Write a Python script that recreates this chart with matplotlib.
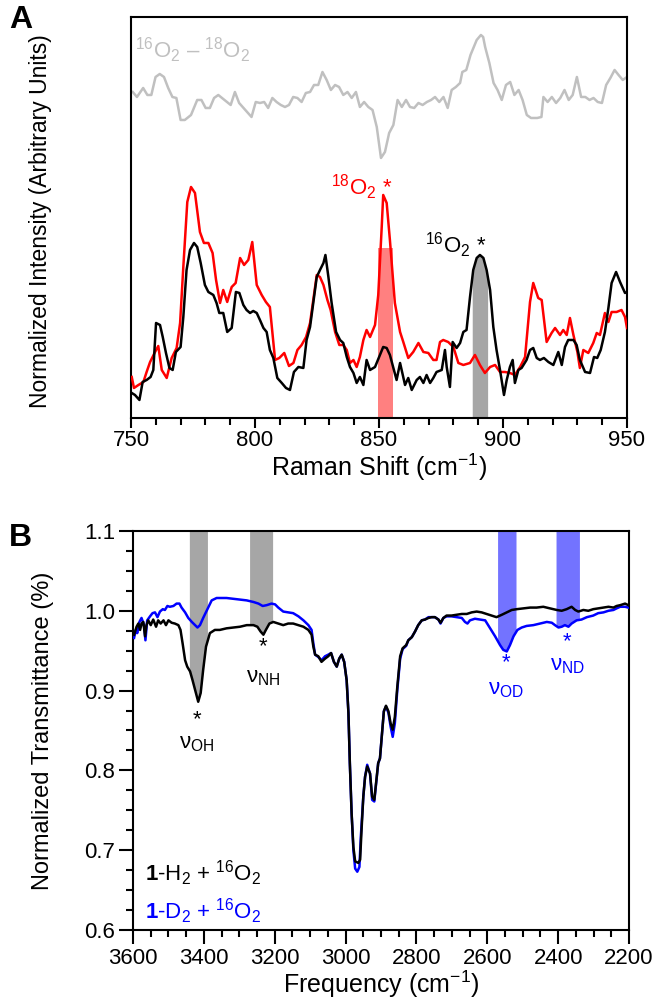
import matplotlib
matplotlib.use("Agg")
import matplotlib.pyplot as plt
import numpy as np
from matplotlib.ticker import MultipleLocator, FormatStrFormatter

plt.rcParams['font.family'] = ['Liberation Sans', 'DejaVu Sans']
plt.rcParams['mathtext.fontset'] = 'custom'
plt.rcParams['mathtext.rm'] = 'Liberation Sans'
plt.rcParams['mathtext.it'] = 'Liberation Sans:italic'
plt.rcParams['mathtext.bf'] = 'Liberation Sans:bold'

# ---- Panel A: Raman (arbitrary units) ----
diff_x = [750.7, 752.4, 754.9, 756.6, 758.2, 759.9, 761.6, 763.3, 765.0, 766.7,
          768.3, 770.0, 771.7, 774.2, 776.7, 778.4, 780.1, 781.8, 783.5, 785.2,
          787.7, 790.2, 791.9, 793.6, 796.1, 798.6, 800.3, 802.0, 803.7, 805.3,
          807.0, 808.7, 810.4, 812.1, 813.7, 815.4, 817.1, 818.8, 820.5, 822.2,
          823.8, 825.5, 827.2, 828.9, 830.6, 832.3, 833.9, 835.6, 837.3, 839.0,
          840.7, 842.3, 844.0, 845.7, 847.4, 849.1, 850.8, 852.4, 854.1, 855.8,
          857.5, 859.2, 860.9, 862.5, 864.2, 865.9, 867.6, 869.3, 871.0, 872.6,
          874.3, 876.0, 877.7, 879.3, 881.0, 882.7, 883.6, 885.2, 886.9, 889.4,
          891.1, 892.0, 892.8, 894.5, 896.2, 897.8, 899.5, 901.2, 902.9, 904.6,
          906.3, 907.9, 909.6, 911.3, 913.8, 915.5, 916.3, 918.0, 919.7, 921.4,
          923.1, 924.8, 926.5, 928.1, 929.8, 931.5, 933.2, 934.9, 936.5, 938.2,
          939.9, 941.6, 943.3, 945.0, 946.6, 948.3, 950.0]
diff_y = [326, 321, 330, 323, 323, 341, 344, 341, 330, 321,
          320, 298, 298, 303, 318, 318, 310, 310, 320, 323,
          318, 313, 326, 315, 308, 301, 316, 315, 316, 310,
          320, 316, 313, 311, 313, 321, 320, 316, 325, 326,
          333, 333, 346, 338, 328, 333, 331, 323, 326, 320,
          326, 311, 316, 311, 308, 291, 260, 266, 285, 293,
          318, 311, 318, 311, 310, 315, 313, 316, 318, 321,
          316, 321, 310, 328, 331, 335, 346, 348, 363, 378,
          383, 381, 371, 355, 335, 328, 318, 333, 336, 323,
          328, 318, 303, 300, 300, 301, 321, 316, 321, 315,
          320, 328, 318, 323, 341, 321, 321, 318, 320, 316,
          315, 333, 340, 348, 343, 338, 341]

o18_x = [750.3, 751.2, 753.0, 755.0, 756.3, 757.7, 759.7, 761.0, 762.4, 764.4,
         766.4, 768.4, 769.8, 771.1, 772.7, 774.2, 775.8, 777.8, 779.4, 781.2,
         782.9, 784.3, 785.9, 787.2, 788.8, 790.6, 792.2, 794.0, 795.6, 797.3,
         798.9, 800.7, 802.7, 804.4, 806.0, 808.1, 809.8, 811.8, 813.7, 815.5,
         817.1, 818.8, 820.6, 822.2, 823.5, 824.9, 826.2, 827.6, 829.2, 830.5,
         832.3, 834.0, 835.6, 837.0, 838.3, 839.7, 841.0, 842.3, 843.7, 845.0,
         846.4, 848.4, 849.7, 851.1, 851.7, 853.1, 854.4, 856.4, 858.5, 859.8,
         861.8, 863.8, 865.9, 867.9, 869.9, 871.9, 873.2, 874.6, 875.9, 877.9,
         880.0, 882.0, 884.0, 886.7, 888.7, 890.7, 892.7, 894.8, 896.8, 898.8,
         900.8, 902.8, 904.8, 906.9, 908.9, 910.9, 912.2, 914.2, 915.6, 917.6,
         919.6, 921.0, 923.0, 924.3, 925.7, 927.0, 928.4, 930.0, 931.0, 932.4,
         934.4, 936.4, 937.8, 939.1, 941.1, 942.5, 943.8, 945.8, 947.8, 949.2,
         950.0]
o18_y = [41, 30, 33, 36, 46, 56, 66, 72, 48, 40,
         60, 70, 95, 151, 216, 231, 225, 186, 175, 175,
         165, 138, 115, 128, 116, 131, 135, 160, 153, 158,
         176, 133, 123, 116, 111, 58, 60, 65, 52, 55,
         68, 73, 81, 95, 118, 143, 141, 133, 118, 108,
         86, 73, 73, 68, 55, 58, 51, 61, 78, 88,
         81, 93, 123, 191, 223, 215, 178, 115, 86, 76,
         60, 66, 75, 66, 65, 58, 58, 76, 78, 76,
         71, 55, 53, 55, 63, 53, 45, 51, 53, 46,
         46, 45, 43, 51, 61, 116, 135, 120, 118, 76,
         85, 90, 83, 88, 83, 100, 83, 66, 50, 68,
         65, 75, 85, 83, 105, 96, 106, 106, 108, 101,
         90]

o16_x = [750.3, 751.6, 753.4, 754.7, 756.3, 757.9, 759.0, 760.1, 761.7, 762.8,
         764.1, 765.5, 766.8, 768.1, 770.0, 771.1, 772.4, 773.8, 775.4, 776.7,
         778.1, 779.8, 781.2, 783.2, 784.5, 785.6, 787.2, 788.8, 790.6, 792.3,
         793.7, 795.3, 796.6, 798.0, 799.3, 800.7, 802.0, 803.4, 804.7, 806.0,
         807.4, 809.0, 810.8, 812.5, 814.1, 815.7, 817.5, 819.5, 820.8, 822.2,
         823.8, 824.9, 826.2, 827.6, 828.4, 829.6, 830.9, 832.7, 834.3, 835.6,
         837.0, 838.3, 839.7, 841.0, 842.3, 843.7, 845.0, 846.4, 848.4, 850.4,
         851.7, 853.1, 854.4, 855.8, 857.1, 858.5, 860.5, 861.8, 863.2, 865.2,
         866.5, 867.9, 869.2, 870.6, 871.9, 873.2, 875.3, 876.6, 877.3, 878.6,
         879.7, 881.3, 882.7, 884.0, 885.3, 886.7, 888.0, 889.4, 890.7, 892.1,
         893.4, 894.8, 896.1, 897.4, 898.8, 900.4, 901.5, 902.8, 903.9, 904.8,
         906.2, 907.5, 909.5, 910.9, 912.2, 913.6, 914.9, 916.5, 918.3, 920.3,
         922.3, 923.7, 925.0, 926.3, 928.4, 929.7, 931.0, 933.1, 935.1, 936.7,
         938.0, 939.4, 941.1, 942.5, 943.8, 945.6, 947.2, 949.2, 950.0]
o16_y = [25, 23, 18, 36, 38, 41, 48, 95, 93, 81,
         65, 50, 48, 66, 71, 101, 148, 168, 175, 171,
         155, 133, 126, 123, 115, 105, 105, 86, 90, 126,
         125, 113, 108, 105, 107, 105, 98, 90, 86, 68,
         60, 40, 35, 30, 28, 46, 51, 50, 78, 91,
         121, 141, 148, 155, 163, 141, 115, 86, 78, 75,
         61, 51, 45, 35, 41, 33, 58, 48, 51, 63,
         71, 70, 63, 50, 38, 55, 33, 40, 28, 38,
         41, 35, 43, 35, 40, 46, 48, 68, 51, 31,
         76, 70, 75, 86, 88, 121, 148, 160, 163, 160,
         148, 128, 91, 68, 48, 23, 38, 51, 58, 35,
         48, 50, 58, 68, 70, 60, 58, 60, 56, 53,
         66, 53, 71, 78, 78, 73, 58, 46, 45, 61,
         60, 68, 86, 110, 135, 146, 136, 125, 126]

# highlighted bands (cm-1)
band_18 = (849.5, 855.8)
band_18_top = 170
band_16 = (887.6, 893.8)

# ---- Panel B: IR transmittance ----
h2_x = [3597, 3590, 3585, 3580, 3576, 3571, 3566, 3562, 3557, 3550,
        3543, 3535, 3529, 3522, 3514, 3507, 3500, 3491, 3482, 3472,
        3466, 3460, 3453, 3447, 3439, 3432, 3425, 3416, 3409, 3402,
        3394, 3383, 3369, 3355, 3336, 3317, 3298, 3279, 3260, 3249,
        3240, 3232, 3225, 3215, 3204, 3190, 3176, 3162, 3148, 3133,
        3119, 3105, 3096, 3091, 3086, 3077, 3068, 3058, 3049, 3041,
        3033, 3025, 3018, 3011, 3004, 2997, 2992, 2988, 2983, 2978,
        2973, 2964, 2959, 2955, 2950, 2945, 2939, 2931, 2925, 2919,
        2912, 2908, 2903, 2898, 2892, 2886, 2879, 2873, 2867, 2861,
        2854, 2846, 2839, 2829, 2823, 2813, 2804, 2795, 2785, 2776,
        2766, 2757, 2748, 2738, 2732, 2724, 2715, 2701, 2686, 2672,
        2658, 2644, 2630, 2616, 2602, 2588, 2574, 2559, 2545, 2531,
        2517, 2498, 2479, 2461, 2442, 2423, 2404, 2390, 2376, 2362,
        2352, 2343, 2329, 2315, 2301, 2287, 2272, 2258, 2244, 2235,
        2225, 2211, 2202]
h2_y = [0.970, 0.980, 0.984, 0.976, 0.984, 0.986, 0.968, 0.982, 0.988, 0.982,
        0.989, 0.980, 0.988, 0.984, 0.988, 0.982, 0.988, 0.985, 0.984, 0.982,
        0.976, 0.959, 0.938, 0.930, 0.924, 0.913, 0.901, 0.886, 0.897, 0.926,
        0.955, 0.972, 0.976, 0.976, 0.978, 0.979, 0.980, 0.982, 0.982, 0.980,
        0.974, 0.970, 0.976, 0.984, 0.986, 0.984, 0.982, 0.984, 0.984, 0.982,
        0.980, 0.976, 0.970, 0.955, 0.945, 0.943, 0.936, 0.940, 0.943, 0.947,
        0.936, 0.930, 0.940, 0.945, 0.936, 0.913, 0.872, 0.809, 0.746, 0.704,
        0.686, 0.684, 0.688, 0.725, 0.767, 0.792, 0.805, 0.796, 0.767, 0.763,
        0.792, 0.809, 0.815, 0.842, 0.874, 0.881, 0.874, 0.859, 0.851, 0.867,
        0.905, 0.943, 0.953, 0.957, 0.963, 0.967, 0.974, 0.982, 0.988, 0.989,
        0.991, 0.992, 0.992, 0.989, 0.985, 0.991, 0.994, 0.994, 0.995, 0.996,
        0.996, 0.998, 0.999, 0.998, 0.996, 0.994, 0.992, 0.995, 0.998, 1.001,
        1.002, 1.003, 1.004, 1.004, 1.005, 1.003, 1.001, 1.000, 1.002, 1.005,
        1.001, 0.999, 1.001, 1.000, 1.002, 1.003, 1.004, 1.005, 1.004, 1.006,
        1.007, 1.009, 1.007]

d2_x = [3597, 3592, 3588, 3582, 3576, 3569, 3565, 3560, 3552, 3545,
        3538, 3531, 3524, 3516, 3510, 3503, 3496, 3486, 3477, 3469,
        3463, 3453, 3444, 3434, 3425, 3418, 3411, 3402, 3390, 3378,
        3364, 3350, 3336, 3317, 3298, 3279, 3260, 3246, 3234, 3223,
        3209, 3199, 3190, 3176, 3162, 3148, 3133, 3119, 3105, 3096,
        3091, 3086, 3077, 3068, 3058, 3049, 3041, 3033, 3025, 3018,
        3011, 3004, 2997, 2992, 2988, 2983, 2978, 2973, 2967, 2961,
        2957, 2950, 2945, 2939, 2931, 2925, 2919, 2912, 2908, 2903,
        2898, 2892, 2886, 2879, 2873, 2867, 2861, 2854, 2846, 2839,
        2829, 2823, 2813, 2804, 2795, 2785, 2776, 2766, 2757, 2748,
        2738, 2732, 2724, 2715, 2701, 2686, 2672, 2663, 2656, 2649,
        2635, 2621, 2606, 2592, 2578, 2564, 2555, 2545, 2536, 2526,
        2515, 2503, 2489, 2470, 2451, 2432, 2418, 2409, 2399, 2390,
        2381, 2371, 2362, 2348, 2334, 2319, 2301, 2287, 2272, 2258,
        2244, 2235, 2225, 2211, 2202]
d2_y = [0.966, 0.976, 0.972, 0.986, 0.991, 0.982, 0.963, 0.988, 0.993, 0.997,
        0.998, 0.992, 0.999, 1.002, 1.001, 1.006, 1.005, 1.006, 1.009, 1.009,
        1.004, 0.998, 0.991, 0.986, 0.982, 0.979, 0.982, 0.991, 1.002, 1.013,
        1.016, 1.016, 1.016, 1.015, 1.014, 1.013, 1.011, 1.009, 1.006, 1.007,
        1.009, 1.008, 1.004, 0.999, 0.998, 0.997, 0.993, 0.988, 0.982, 0.976,
        0.959, 0.945, 0.942, 0.938, 0.943, 0.945, 0.947, 0.936, 0.930, 0.940,
        0.945, 0.936, 0.913, 0.872, 0.809, 0.746, 0.700, 0.677, 0.673, 0.679,
        0.717, 0.767, 0.792, 0.807, 0.796, 0.763, 0.761, 0.792, 0.809, 0.815,
        0.842, 0.874, 0.880, 0.872, 0.855, 0.842, 0.859, 0.901, 0.940, 0.952,
        0.956, 0.963, 0.967, 0.974, 0.982, 0.988, 0.989, 0.992, 0.992, 0.992,
        0.989, 0.984, 0.991, 0.993, 0.993, 0.992, 0.991, 0.986, 0.984, 0.988,
        0.990, 0.989, 0.988, 0.978, 0.968, 0.957, 0.951, 0.949, 0.957, 0.968,
        0.976, 0.979, 0.981, 0.982, 0.984, 0.986, 0.985, 0.982, 0.979, 0.980,
        0.982, 0.980, 0.984, 0.988, 0.989, 0.992, 0.994, 0.997, 0.998, 1.000,
        1.001, 1.003, 1.005, 1.005, 1.004]

# bands: (lo, hi) in cm-1
h_bands = [(3390, 3441), (3206, 3271)]
d_bands = [(2519, 2571), (2340, 2406)]

# peak labels: (name, x, y of asterisk, y of label, colour)
peak_labels = [('OH', 3419, 0.863, 0.834, 'black'),
               ('NH', 3233, 0.955, 0.917, 'black'),
               ('OD', 2547, 0.935, 0.901, '#0000ff'),
               ('ND', 2375, 0.961, 0.931, '#0000ff')]

RED = '#ff0000'
BLUE = '#0000ff'
LW = 1.8
TICK_FS = 16
XLABEL_FS = 18
YLABEL_FS = 16.5
NOTE_FS = 16

fig = plt.figure(figsize=(6.54, 9.99), dpi=100)
axA = fig.add_axes([0.2003, 0.5816, 0.7584, 0.4014])
axB = fig.add_axes([0.2034, 0.0691, 0.7584, 0.3994])

# ---------- A ----------
axA.fill_between(band_18, 0, band_18_top, color='#ff8080', lw=0, zorder=1)
xs = np.linspace(band_16[0], band_16[1], 40)
axA.fill_between(xs, 0, np.interp(xs, o16_x, o16_y), color='#a6a6a6', lw=0, zorder=1)
axA.plot(diff_x, diff_y, color='#c0c0c0', lw=LW, zorder=2)
axA.plot(o18_x, o18_y, color=RED, lw=LW, zorder=3)
axA.plot(o16_x, o16_y, color='black', lw=LW, zorder=4)

axA.set_xlim(750, 950)
axA.set_ylim(0, 401)
axA.set_yticks([])
axA.xaxis.set_major_locator(MultipleLocator(50))
axA.xaxis.set_minor_locator(MultipleLocator(10))
axA.tick_params(axis='x', which='major', direction='out', length=7, width=1.5,
                labelsize=TICK_FS, pad=2)
axA.tick_params(axis='x', which='minor', direction='out', length=5, width=1.5)
axA.set_xlabel('Raman Shift (cm$^{-1}$)', fontsize=XLABEL_FS, labelpad=0)
axA.set_ylabel('Normalized Intensity (Arbitrary Units)', fontsize=YLABEL_FS)
axA.yaxis.set_label_coords(-0.16, 0.49)

axA.text(751.5, 368, '$^{16}$O$_2$ \u2013 $^{18}$O$_2$', color='#c0c0c0',
         fontsize=NOTE_FS, ha='left', va='center')
axA.text(855.5, 231, '$^{18}$O$_2$ *', color=RED, fontsize=NOTE_FS, ha='right', va='center')
axA.text(893.5, 173, '$^{16}$O$_2$ *', color='black', fontsize=NOTE_FS, ha='right', va='center')

# ---------- B ----------
for lo, hi in h_bands:
    xs = np.linspace(lo, hi, 40)
    ys = np.interp(xs, h2_x[::-1], h2_y[::-1])
    axB.fill_between(xs, ys, 1.1, color='#a6a6a6', lw=0, zorder=1)
for lo, hi in d_bands:
    xs = np.linspace(lo, hi, 40)
    ys = np.interp(xs, d2_x[::-1], d2_y[::-1])
    axB.fill_between(xs, ys, 1.1, color='#7373ff', lw=0, zorder=1)

axB.plot(d2_x, d2_y, color=BLUE, lw=LW, zorder=3)
axB.plot(h2_x, h2_y, color='black', lw=LW, zorder=4)

axB.set_xlim(3600, 2200)
axB.set_ylim(0.6, 1.1)
axB.xaxis.set_major_locator(MultipleLocator(200))
axB.xaxis.set_minor_locator(MultipleLocator(50))
axB.yaxis.set_major_locator(MultipleLocator(0.1))
axB.yaxis.set_minor_locator(MultipleLocator(0.025))
axB.yaxis.set_major_formatter(FormatStrFormatter('%.1f'))
axB.tick_params(which='major', direction='out', length=10, width=1.5,
                labelsize=TICK_FS, pad=3)
axB.tick_params(which='minor', direction='out', length=5, width=1.5)
axB.set_xlabel('Frequency (cm$^{-1}$)', fontsize=XLABEL_FS, labelpad=0)
axB.set_ylabel('Normalized Transmittance (%)', fontsize=YLABEL_FS + 0.5)
axB.yaxis.set_label_coords(-0.16, 0.5)

for name, x, ystar, ylab, col in peak_labels:
    axB.text(x, ystar, '*', color=col, fontsize=NOTE_FS, ha='center', va='center')
    axB.text(x, ylab, '\u03bd$_{\\mathrm{%s}}$' % name, color=col, fontsize=NOTE_FS,
             ha='center', va='center')

axB.text(0.024, 0.143, r'$\mathbf{1}$-H$_2$ + $^{16}$O$_2$', transform=axB.transAxes,
         fontsize=NOTE_FS, ha='left', va='center', color='black')
axB.text(0.024, 0.048, r'$\mathbf{1}$-D$_2$ + $^{16}$O$_2$', transform=axB.transAxes,
         fontsize=NOTE_FS, ha='left', va='center', color=BLUE)

for ax in (axA, axB):
    for sp in ax.spines.values():
        sp.set_linewidth(1.5)

fig.text(9 / 654, 1 - 5 / 999, 'A', fontsize=23, fontweight='bold', va='top', ha='left')
fig.text(9 / 654, 1 - 523 / 999, 'B', fontsize=23, fontweight='bold', va='top', ha='left')

fig.savefig('out.png', dpi=100)
